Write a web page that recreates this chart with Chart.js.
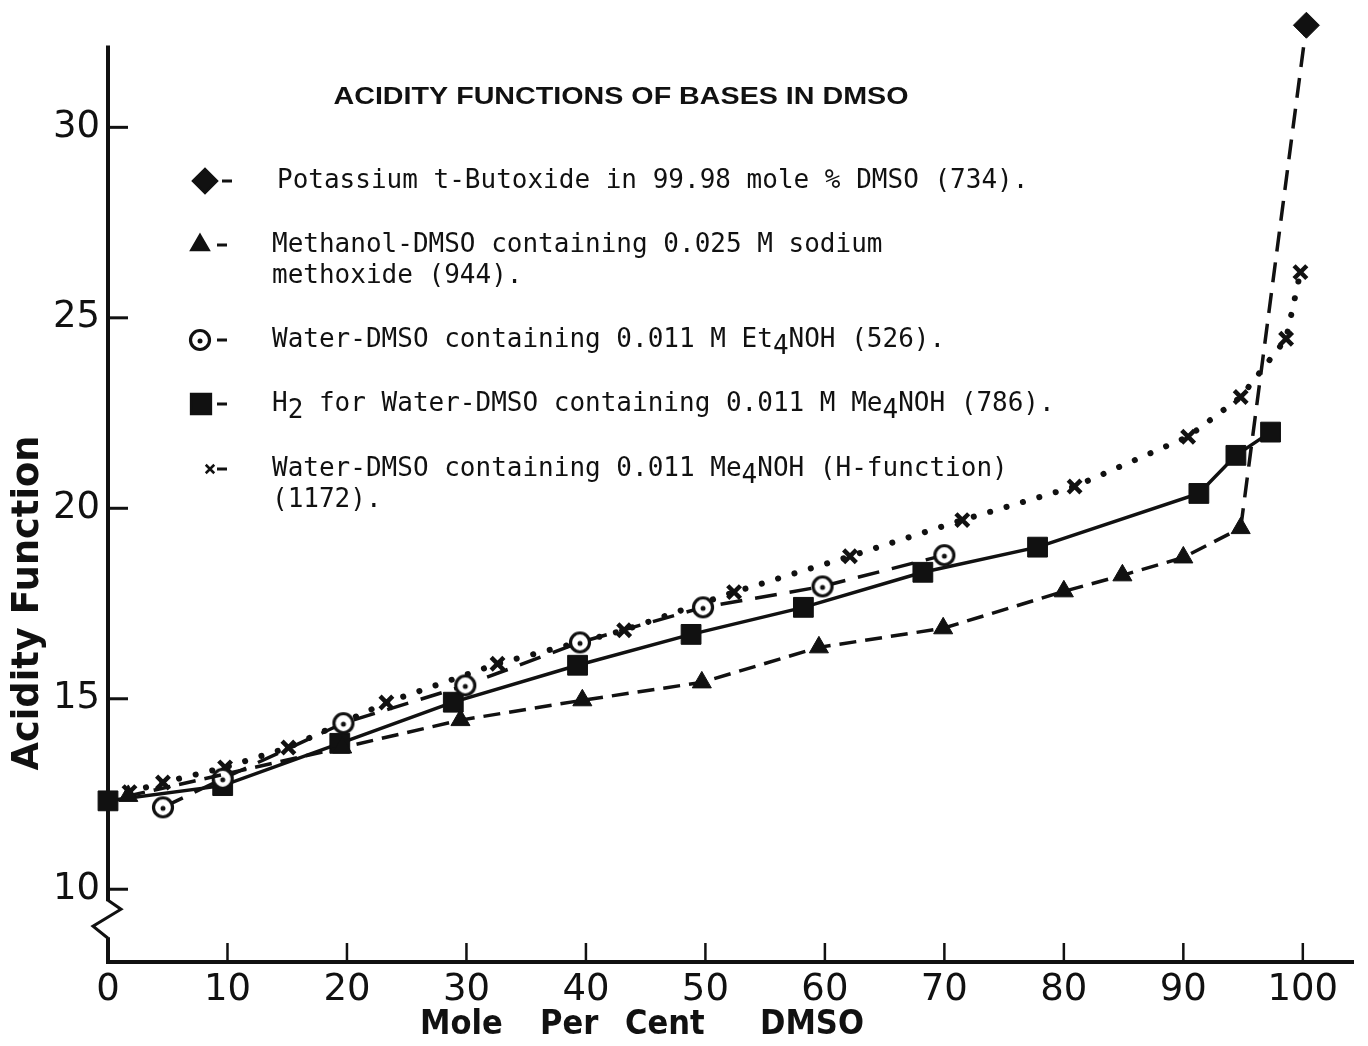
<!DOCTYPE html>
<html>
<head>
<meta charset="utf-8">
<title>Acidity Functions of Bases in DMSO</title>
<script src="https://cdn.jsdelivr.net/npm/chart.js@4.4.1/dist/chart.umd.min.js"></script>
<style>
  html, body { margin: 0; padding: 0; background: #fff; }
  #wrap { width: 1368px; height: 1046px; }
</style>
</head>
<body>
<div id="wrap"><canvas id="chart" width="1368" height="1046"></canvas></div>
<script>
// Acidity function against mole per cent DMSO for several base systems

const xTicks = [0, 10, 20, 30, 40, 50, 60, 70, 80, 90, 100];
const yTicks = [10, 15, 20, 25, 30];
const yAxisTop = 32.15;   // the drawn axis stops here, the diamond sits above it

// Potassium t-butoxide in 99.98 mole % DMSO
const diamondX = [100.3];
const diamondY = [32.68];

// Methanol-DMSO with 0.025 M sodium methoxide
const triangleX = [1.7, 19.6, 29.5, 39.7, 49.7, 59.5, 69.9, 80.0, 84.9, 90.0, 94.8];
const triangleY = [12.45, 13.72, 14.44, 14.96, 15.43, 16.35, 16.85, 17.82, 18.24, 18.71, 19.48];

// Water-DMSO with 0.011 M Et4NOH
const circleX = [4.6, 9.6, 19.7, 29.9, 39.5, 49.8, 59.8, 70.0];
const circleY = [12.15, 12.9, 14.36, 15.35, 16.48, 17.40, 17.95, 18.77];

// H2 for water-DMSO with 0.011 M Me4NOH
const squareX = [0, 9.6, 19.4, 28.9, 39.3, 48.8, 58.2, 68.2, 77.8, 91.3, 94.4, 97.3];
const squareY = [12.32, 12.72, 13.83, 14.91, 15.88, 16.69, 17.40, 18.32, 18.98, 20.39, 21.39, 22.0];

// H-function, water-DMSO with 0.011 Me4NOH
const crossX = [1.8, 4.6, 9.8, 15.1, 23.3, 32.6, 43.2, 52.4, 62.1, 71.5, 80.9, 90.4, 94.8, 98.6, 99.8];
const crossY = [12.55, 12.8, 13.2, 13.72, 14.9, 15.92, 16.8, 17.8, 18.74, 19.69, 20.57, 21.88, 22.92, 24.45, 26.2];

const chartTitle = 'ACIDITY FUNCTIONS OF BASES IN DMSO';
const yTitle = 'Acidity Function';
const xTitleWords = ['Mole', 'Per', 'Cent', 'DMSO'];

// "_" puts the next character down as a subscript
const legendLabels = [
  ['Potassium t-Butoxide in 99.98 mole % DMSO (734).'],
  ['Methanol-DMSO containing 0.025 M sodium', 'methoxide (944).'],
  ['Water-DMSO containing 0.011 M Et_4NOH (526).'],
  ['H_2 for Water-DMSO containing 0.011 M Me_4NOH (786).'],
  ['Water-DMSO containing 0.011 Me_4NOH (H-function)', '(1172).']
];

const INK = '#111';

function pts(xs, ys) {
  return xs.map((x, i) => ({ x, y: ys[i] }));
}

// open circle with a small mark inside
function makeCircleMarker() {
  const c = document.createElement('canvas');
  c.width = 26; c.height = 26;
  const g = c.getContext('2d');
  g.fillStyle = '#fff';
  g.strokeStyle = INK;
  g.lineWidth = 3.2;
  g.beginPath(); g.arc(13, 13, 9.5, 0, Math.PI * 2); g.fill(); g.stroke();
  g.fillStyle = INK;
  g.beginPath(); g.arc(13, 14, 2.5, 0, Math.PI * 2); g.fill();
  return c;
}
const circleMarker = makeCircleMarker();

const markers = [
  { pointStyle: 'rectRot', radius: 12, borderWidth: 1 },
  { pointStyle: 'triangle', radius: 10, borderWidth: 1 },
  { pointStyle: circleMarker, radius: 10, borderWidth: 0 },
  { pointStyle: 'rect', radius: 14, borderWidth: 1 },
  { pointStyle: 'crossRot', radius: 6, borderWidth: 4 }
];

function drawRich(ctx, str, x, y) {
  let cx = x;
  for (let i = 0; i < str.length; i++) {
    let ch = str[i], dy = 0;
    if (ch === '_') { ch = str[++i]; dy = 7; }
    ctx.fillText(ch, cx, y + dy);
    cx += ctx.measureText(ch).width;
  }
}

const decorations = {
  id: 'decorations',
  afterDraw(chart) {
    const { ctx, scales: { x, y }, chartArea: area } = chart;
    ctx.save();
    ctx.strokeStyle = INK;
    ctx.fillStyle = INK;

    // y axis line, broken below 10 with a zigzag
    const top = y.getPixelForValue(yAxisTop);
    const b0 = y.getPixelForValue(10) + 12;
    const b1 = b0 + 36;
    ctx.lineWidth = 4;
    ctx.lineCap = 'butt';
    ctx.beginPath();
    ctx.moveTo(area.left, top); ctx.lineTo(area.left, b0);
    ctx.moveTo(area.left, b1); ctx.lineTo(area.left, area.bottom + 2);
    ctx.stroke();
    ctx.lineWidth = 3;
    ctx.lineJoin = 'miter';
    ctx.beginPath();
    ctx.moveTo(area.left, b0 - 1);
    ctx.lineTo(area.left + 13, b0 + 8);
    ctx.lineTo(area.left - 15, b0 + 25);
    ctx.lineTo(area.left, b1 + 1);
    ctx.stroke();

    // inward tick marks
    ctx.lineWidth = 3;
    yTicks.forEach(v => {
      const py = y.getPixelForValue(v);
      ctx.beginPath(); ctx.moveTo(area.left, py); ctx.lineTo(area.left + 20, py); ctx.stroke();
    });
    ctx.lineWidth = 2.5;
    xTicks.forEach(v => {
      if (v === 0) return;
      const px = x.getPixelForValue(v);
      ctx.beginPath(); ctx.moveTo(px, area.bottom); ctx.lineTo(px, area.bottom - 19); ctx.stroke();
    });

    // chart title
    ctx.font = 'bold 24px "Liberation Sans"';
    ctx.textAlign = 'center';
    ctx.textBaseline = 'middle';
    const tw = ctx.measureText(chartTitle).width;
    ctx.save();
    ctx.translate(621, 97);
    ctx.scale(575 / tw, 1);
    ctx.fillText(chartTitle, 0, 0);
    ctx.restore();

    // legend
    const rows = [181, 245, 340, 404, 469];
    const markX = [205, 200, 200, 201, 210];
    ctx.font = '26px "DejaVu Sans Mono"';
    ctx.textAlign = 'left';
    legendLabels.forEach((lines, i) => {
      const ry = rows[i];
      Chart.helpers.drawPoint(ctx, Object.assign({ rotation: 0 }, markers[i]), markX[i], ry);
      ctx.fillStyle = INK;
      ctx.fillRect(i === 0 ? 222 : 217, ry - 1.5, 10, 3);
      lines.forEach((ln, j) => drawRich(ctx, ln, i === 0 ? 277 : 272, ry + j * 31));
    });

    // y axis title
    ctx.save();
    ctx.font = 'bold 38px "DejaVu Sans Condensed", "DejaVu Sans"';
    ctx.textAlign = 'center';
    ctx.textBaseline = 'alphabetic';
    ctx.translate(38, 603);
    ctx.rotate(-Math.PI / 2);
    const yw = ctx.measureText(yTitle).width;
    ctx.scale(335 / yw, 1);
    ctx.fillText(yTitle, 0, 0);
    ctx.restore();

    // x axis title
    ctx.font = 'bold 34px "DejaVu Sans Condensed", "DejaVu Sans"';
    ctx.textAlign = 'left';
    ctx.textBaseline = 'middle';
    const wordX = [420, 540, 625, 760];
    xTitleWords.forEach((w, i) => ctx.fillText(w, wordX[i], 1025));

    ctx.restore();
  }
};

const lineBase = {
  borderColor: INK,
  backgroundColor: INK,
  pointBorderColor: INK,
  pointBackgroundColor: INK,
  fill: false,
  tension: 0,
  clip: false
};

new Chart(document.getElementById('chart'), {
  type: 'line',
  data: {
    datasets: [
      Object.assign({}, lineBase, {
        label: 'Potassium t-Butoxide',
        data: [{ x: triangleX[triangleX.length - 1], y: triangleY[triangleY.length - 1] }].concat(pts(diamondX, diamondY)),
        borderWidth: 3.5,
        borderDash: [20, 11],
        pointStyle: 'rectRot',
        pointRadius: [0, 13],
        pointBorderWidth: 1
      }),
      Object.assign({}, lineBase, {
        label: 'Methanol-DMSO',
        data: pts(triangleX, triangleY),
        borderWidth: 3.5,
        borderDash: [17, 9],
        pointStyle: 'triangle',
        pointRadius: 11,
        pointBorderWidth: 1
      }),
      Object.assign({}, lineBase, {
        label: 'Water-DMSO Et4NOH',
        data: pts(circleX, circleY),
        borderWidth: 3.5,
        borderDash: [22, 13],
        pointStyle: circleMarker,
        pointRadius: 10
      }),
      Object.assign({}, lineBase, {
        label: 'H2 Water-DMSO Me4NOH',
        data: pts(squareX, squareY),
        borderWidth: 3.5,
        pointStyle: 'rect',
        pointRadius: 14,
        pointBorderWidth: 1
      }),
      Object.assign({}, lineBase, {
        label: 'H-function',
        data: pts(crossX, crossY),
        borderWidth: 6,
        borderDash: [0.1, 17],
        borderCapStyle: 'round',
        pointStyle: 'crossRot',
        pointRadius: 9,
        pointBorderWidth: 4.5
      })
    ]
  },
  options: {
    responsive: false,
    animation: false,
    devicePixelRatio: 1,
    layout: { padding: { top: 0, right: 8, left: 0, bottom: 0 } },
    plugins: {
      legend: { display: false },
      tooltip: { enabled: false }
    },
    scales: {
      x: {
        type: 'linear',
        min: 0,
        max: 104.2,
        afterBuildTicks: s => { s.ticks = xTicks.map(v => ({ value: v })); },
        afterFit: s => { s.height = 84; },
        grid: { display: false },
        border: { display: true, color: INK, width: 4 },
        ticks: {
          color: INK,
          padding: -2,
          maxRotation: 0,
          font: { family: '"DejaVu Sans"', size: 37 }
        }
      },
      y: {
        type: 'linear',
        min: 8.09,
        max: 32.76,
        afterBuildTicks: s => { s.ticks = yTicks.map(v => ({ value: v })); },
        afterFit: s => { s.width = 108; },
        grid: { display: false },
        border: { display: false },
        ticks: {
          color: INK,
          padding: 0,
          font: { family: '"DejaVu Sans"', size: 37 }
        }
      }
    }
  },
  plugins: [decorations]
});
</script>
</body>
</html>
